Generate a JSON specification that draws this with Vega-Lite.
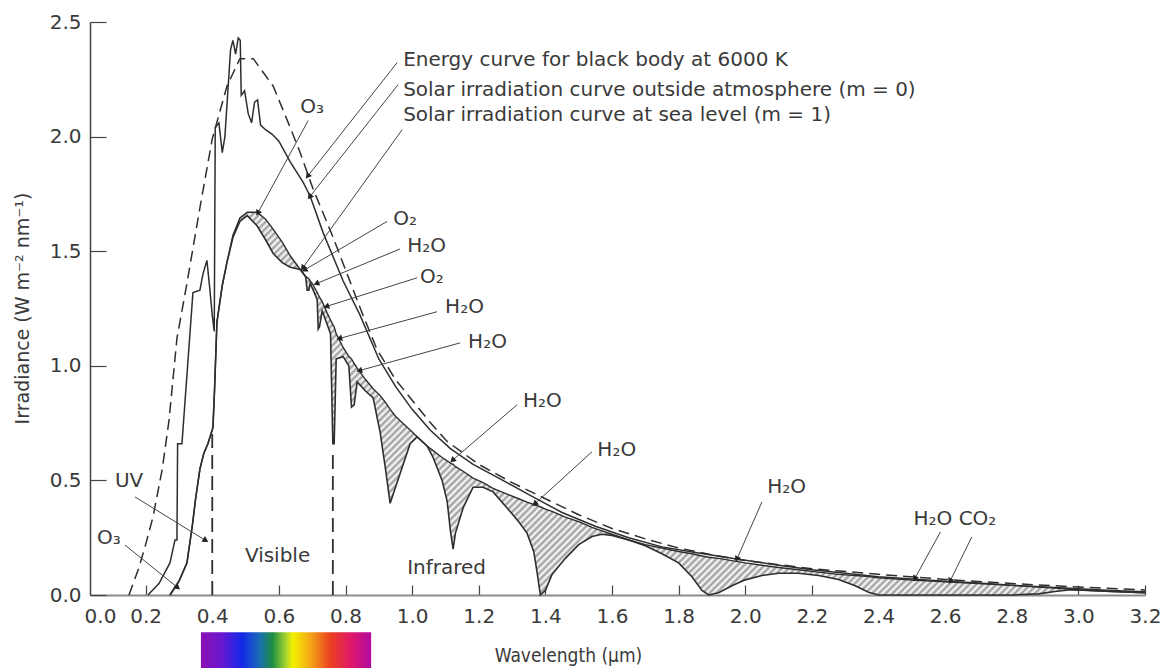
{
  "$schema": "https://vega.github.io/schema/vega-lite/v6.json",
  "width": 1055,
  "height": 573,
  "autosize": {"type": "none"},
  "padding": {"left": 90, "top": 22, "right": 20, "bottom": 74},
  "background": "white",
  "config": {"view": {"stroke": null}, "font": "DejaVu Sans"},
  "datasets": {
    "bb": [
      {"x": 0.15, "y": 0}, {"x": 0.18, "y": 0.12}, {"x": 0.2, "y": 0.22}, {"x": 0.222, "y": 0.34},
      {"x": 0.25, "y": 0.55}, {"x": 0.27, "y": 0.76}, {"x": 0.294, "y": 1.12}, {"x": 0.324, "y": 1.36},
      {"x": 0.363, "y": 1.69}, {"x": 0.4, "y": 1.99}, {"x": 0.444, "y": 2.22}, {"x": 0.483, "y": 2.34},
      {"x": 0.523, "y": 2.34}, {"x": 0.583, "y": 2.22}, {"x": 0.634, "y": 2.04}, {"x": 0.664, "y": 1.93},
      {"x": 0.703, "y": 1.77}, {"x": 0.763, "y": 1.56}, {"x": 0.805, "y": 1.4}, {"x": 0.85, "y": 1.23},
      {"x": 0.895, "y": 1.07}, {"x": 0.95, "y": 0.94}, {"x": 1.0, "y": 0.85}, {"x": 1.05, "y": 0.76},
      {"x": 1.105, "y": 0.67}, {"x": 1.2, "y": 0.57}, {"x": 1.3, "y": 0.49}, {"x": 1.4, "y": 0.42},
      {"x": 1.5, "y": 0.35}, {"x": 1.6, "y": 0.29}, {"x": 1.7, "y": 0.245}, {"x": 1.8, "y": 0.205},
      {"x": 1.9, "y": 0.175}, {"x": 2.0, "y": 0.15}, {"x": 2.2, "y": 0.115}, {"x": 2.4, "y": 0.09},
      {"x": 2.6, "y": 0.068}, {"x": 2.8, "y": 0.05}, {"x": 3.0, "y": 0.035}, {"x": 3.2, "y": 0.022}
    ],
    "out": [
      {"x": 0.207, "y": 0}, {"x": 0.24, "y": 0.05}, {"x": 0.273, "y": 0.14}, {"x": 0.288, "y": 0.24},
      {"x": 0.294, "y": 0.24}, {"x": 0.296, "y": 0.66}, {"x": 0.309, "y": 0.66}, {"x": 0.333, "y": 1.14},
      {"x": 0.342, "y": 1.32}, {"x": 0.363, "y": 1.33}, {"x": 0.372, "y": 1.4}, {"x": 0.384, "y": 1.46},
      {"x": 0.393, "y": 1.33}, {"x": 0.4, "y": 1.22}, {"x": 0.406, "y": 1.15}, {"x": 0.409, "y": 2.04},
      {"x": 0.42, "y": 2.06}, {"x": 0.43, "y": 1.93}, {"x": 0.438, "y": 2.0}, {"x": 0.455, "y": 2.38},
      {"x": 0.462, "y": 2.42}, {"x": 0.47, "y": 2.36}, {"x": 0.478, "y": 2.43}, {"x": 0.484, "y": 2.42},
      {"x": 0.487, "y": 2.18}, {"x": 0.497, "y": 2.2}, {"x": 0.508, "y": 2.1}, {"x": 0.518, "y": 2.06},
      {"x": 0.527, "y": 2.15}, {"x": 0.536, "y": 2.16}, {"x": 0.545, "y": 2.05}, {"x": 0.56, "y": 2.03},
      {"x": 0.58, "y": 2.01}, {"x": 0.6, "y": 1.98}, {"x": 0.634, "y": 1.89}, {"x": 0.673, "y": 1.8},
      {"x": 0.694, "y": 1.74}, {"x": 0.733, "y": 1.58}, {"x": 0.793, "y": 1.37}, {"x": 0.844, "y": 1.22},
      {"x": 0.9, "y": 1.03}, {"x": 0.95, "y": 0.91}, {"x": 1.0, "y": 0.81}, {"x": 1.054, "y": 0.72},
      {"x": 1.114, "y": 0.64}, {"x": 1.183, "y": 0.57}, {"x": 1.285, "y": 0.49}, {"x": 1.36, "y": 0.43},
      {"x": 1.45, "y": 0.36}, {"x": 1.55, "y": 0.3}, {"x": 1.65, "y": 0.25}, {"x": 1.75, "y": 0.21},
      {"x": 1.85, "y": 0.185}, {"x": 1.96, "y": 0.16}, {"x": 2.1, "y": 0.13}, {"x": 2.2, "y": 0.11},
      {"x": 2.3, "y": 0.095}, {"x": 2.4, "y": 0.08}, {"x": 2.5, "y": 0.07}, {"x": 2.6, "y": 0.06},
      {"x": 2.7, "y": 0.052}, {"x": 2.8, "y": 0.043}, {"x": 2.9, "y": 0.035}, {"x": 3.0, "y": 0.027},
      {"x": 3.1, "y": 0.02}, {"x": 3.2, "y": 0.014}
    ],
    "sea": [
      {"x": 0.273, "y": 0, "env": 0}, {"x": 0.3, "y": 0.06, "env": 0.06}, {"x": 0.324, "y": 0.14, "env": 0.14},
      {"x": 0.34, "y": 0.3, "env": 0.3}, {"x": 0.35, "y": 0.42, "env": 0.42}, {"x": 0.363, "y": 0.55, "env": 0.55},
      {"x": 0.375, "y": 0.62, "env": 0.62}, {"x": 0.387, "y": 0.66, "env": 0.66}, {"x": 0.402, "y": 0.73, "env": 0.73},
      {"x": 0.407, "y": 0.9, "env": 0.9}, {"x": 0.414, "y": 1.19, "env": 1.19}, {"x": 0.43, "y": 1.35, "env": 1.35},
      {"x": 0.444, "y": 1.45, "env": 1.45}, {"x": 0.462, "y": 1.56, "env": 1.57}, {"x": 0.483, "y": 1.63, "env": 1.645},
      {"x": 0.505, "y": 1.655, "env": 1.67}, {"x": 0.535, "y": 1.61, "env": 1.67}, {"x": 0.56, "y": 1.55, "env": 1.64},
      {"x": 0.583, "y": 1.49, "env": 1.595}, {"x": 0.61, "y": 1.45, "env": 1.54}, {"x": 0.634, "y": 1.43, "env": 1.48},
      {"x": 0.664, "y": 1.42, "env": 1.42}, {"x": 0.68, "y": 1.39, "env": 1.39}, {"x": 0.685, "y": 1.33, "env": 1.385},
      {"x": 0.69, "y": 1.33, "env": 1.38}, {"x": 0.694, "y": 1.36, "env": 1.37}, {"x": 0.7, "y": 1.34, "env": 1.36},
      {"x": 0.715, "y": 1.29, "env": 1.32}, {"x": 0.718, "y": 1.16, "env": 1.31}, {"x": 0.722, "y": 1.17, "env": 1.3},
      {"x": 0.73, "y": 1.24, "env": 1.28}, {"x": 0.745, "y": 1.18, "env": 1.23}, {"x": 0.755, "y": 1.14, "env": 1.2},
      {"x": 0.762, "y": 0.66, "env": 1.18}, {"x": 0.766, "y": 0.66, "env": 1.17}, {"x": 0.772, "y": 1.03, "env": 1.14},
      {"x": 0.793, "y": 1.04, "env": 1.08}, {"x": 0.81, "y": 1.0, "env": 1.04}, {"x": 0.818, "y": 0.82, "env": 1.03},
      {"x": 0.826, "y": 0.83, "env": 1.01}, {"x": 0.835, "y": 0.93, "env": 0.99}, {"x": 0.86, "y": 0.89, "env": 0.94},
      {"x": 0.883, "y": 0.86, "env": 0.9}, {"x": 0.904, "y": 0.71, "env": 0.87}, {"x": 0.92, "y": 0.55, "env": 0.84},
      {"x": 0.934, "y": 0.4, "env": 0.81}, {"x": 0.95, "y": 0.47, "env": 0.78}, {"x": 0.964, "y": 0.53, "env": 0.76},
      {"x": 0.994, "y": 0.66, "env": 0.72}, {"x": 1.015, "y": 0.69, "env": 0.69}, {"x": 1.045, "y": 0.65, "env": 0.65},
      {"x": 1.063, "y": 0.6, "env": 0.63}, {"x": 1.09, "y": 0.5, "env": 0.6}, {"x": 1.105, "y": 0.41, "env": 0.585},
      {"x": 1.115, "y": 0.28, "env": 0.575}, {"x": 1.123, "y": 0.2, "env": 0.57}, {"x": 1.13, "y": 0.27, "env": 0.56},
      {"x": 1.153, "y": 0.38, "env": 0.54}, {"x": 1.183, "y": 0.47, "env": 0.51}, {"x": 1.213, "y": 0.47, "env": 0.49},
      {"x": 1.243, "y": 0.45, "env": 0.465}, {"x": 1.285, "y": 0.38, "env": 0.44}, {"x": 1.32, "y": 0.32, "env": 0.42},
      {"x": 1.345, "y": 0.27, "env": 0.405}, {"x": 1.365, "y": 0.19, "env": 0.395}, {"x": 1.375, "y": 0.1, "env": 0.39},
      {"x": 1.385, "y": 0.0, "env": 0.385}, {"x": 1.4, "y": 0.02, "env": 0.375}, {"x": 1.42, "y": 0.09, "env": 0.365},
      {"x": 1.46, "y": 0.16, "env": 0.34}, {"x": 1.5, "y": 0.22, "env": 0.32}, {"x": 1.54, "y": 0.255, "env": 0.295},
      {"x": 1.57, "y": 0.265, "env": 0.28}, {"x": 1.6, "y": 0.26, "env": 0.265}, {"x": 1.65, "y": 0.24, "env": 0.24},
      {"x": 1.7, "y": 0.215, "env": 0.22}, {"x": 1.75, "y": 0.18, "env": 0.205}, {"x": 1.8, "y": 0.14, "env": 0.19},
      {"x": 1.84, "y": 0.08, "env": 0.18}, {"x": 1.87, "y": 0.02, "env": 0.17}, {"x": 1.89, "y": 0.0, "env": 0.165},
      {"x": 1.92, "y": 0.01, "env": 0.16}, {"x": 1.96, "y": 0.04, "env": 0.15}, {"x": 2.0, "y": 0.066, "env": 0.14},
      {"x": 2.05, "y": 0.085, "env": 0.13}, {"x": 2.1, "y": 0.095, "env": 0.12}, {"x": 2.16, "y": 0.095, "env": 0.11},
      {"x": 2.22, "y": 0.085, "env": 0.1}, {"x": 2.28, "y": 0.068, "env": 0.09}, {"x": 2.33, "y": 0.04, "env": 0.085},
      {"x": 2.37, "y": 0.012, "env": 0.08}, {"x": 2.4, "y": 0.0, "env": 0.075}, {"x": 2.5, "y": 0.0, "env": 0.065},
      {"x": 2.6, "y": 0.0, "env": 0.058}, {"x": 2.7, "y": 0.0, "env": 0.05}, {"x": 2.8, "y": 0.0, "env": 0.042},
      {"x": 2.88, "y": 0.005, "env": 0.035}, {"x": 2.93, "y": 0.015, "env": 0.03}, {"x": 2.97, "y": 0.022, "env": 0.026},
      {"x": 3.0, "y": 0.022, "env": 0.022}, {"x": 3.1, "y": 0.015, "env": 0.015}, {"x": 3.2, "y": 0.01, "env": 0.01}
    ],
    "bounds": [
      {"x": 0.4, "y": 0, "y2": 0.72},
      {"x": 0.762, "y": 0, "y2": 0.64}
    ],
    "arrows": [
      {"x": 0.955, "y": 2.323, "x2": 0.688, "y2": 1.83, "dir": 218},
      {"x": 0.958, "y": 2.227, "x2": 0.694, "y2": 1.74, "dir": 218},
      {"x": 0.97, "y": 2.03, "x2": 0.673, "y2": 1.43, "dir": 216},
      {"x": 0.688, "y": 2.07, "x2": 0.538, "y2": 1.67, "dir": 209},
      {"x": 0.925, "y": 1.63, "x2": 0.679, "y2": 1.42, "dir": 240},
      {"x": 0.964, "y": 1.51, "x2": 0.715, "y2": 1.36, "dir": 247},
      {"x": 1.015, "y": 1.384, "x2": 0.745, "y2": 1.26, "dir": 252},
      {"x": 1.075, "y": 1.236, "x2": 0.784, "y2": 1.12, "dir": 255},
      {"x": 1.144, "y": 1.1, "x2": 0.844, "y2": 0.98, "dir": 255},
      {"x": 1.315, "y": 0.83, "x2": 1.123, "y2": 0.59, "dir": 229},
      {"x": 1.54, "y": 0.625, "x2": 1.37, "y2": 0.4, "dir": 228},
      {"x": 2.05, "y": 0.406, "x2": 1.976, "y2": 0.16, "dir": 204},
      {"x": 2.586, "y": 0.275, "x2": 2.51, "y2": 0.075, "dir": 209},
      {"x": 2.68, "y": 0.253, "x2": 2.616, "y2": 0.064, "dir": 206},
      {"x": 0.168, "y": 0.428, "x2": 0.378, "y2": 0.24, "dir": 122},
      {"x": 0.138, "y": 0.218, "x2": 0.294, "y2": 0.035, "dir": 129}
    ],
    "notes": [
      {"x": 0.973, "y": 2.336, "text": "Energy curve for black body at 6000 K"},
      {"x": 0.973, "y": 2.205, "text": "Solar irradiation curve outside atmosphere (m = 0)"},
      {"x": 0.973, "y": 2.096, "text": "Solar irradiation curve at sea level (m = 1)"},
      {"x": 0.664, "y": 2.127, "text": "O₃"},
      {"x": 0.943, "y": 1.642, "text": "O₂"},
      {"x": 0.985, "y": 1.524, "text": "H₂O"},
      {"x": 1.024, "y": 1.389, "text": "O₂"},
      {"x": 1.099, "y": 1.258, "text": "H₂O"},
      {"x": 1.168, "y": 1.105, "text": "H₂O"},
      {"x": 1.333, "y": 0.847, "text": "H₂O"},
      {"x": 1.556, "y": 0.633, "text": "H₂O"},
      {"x": 2.066, "y": 0.472, "text": "H₂O"},
      {"x": 2.505, "y": 0.332, "text": "H₂O CO₂"},
      {"x": 0.108, "y": 0.498, "text": "UV"},
      {"x": 0.054, "y": 0.249, "text": "O₃"},
      {"x": 0.498, "y": 0.17, "text": "Visible"},
      {"x": 0.985, "y": 0.118, "text": "Infrared"}
    ],
    "spectrum": [
      {"x": 0.366, "x2": 0.877, "y": -0.162, "y2": -0.319}
    ]
  },
  "encoding": {
    "x": {
      "field": "x", "type": "quantitative",
      "scale": {"domain": [0.033, 3.2], "nice": false, "zero": false},
      "axis": {
        "title": "Wavelength (μm)",
        "values": [0.063, 0.2, 0.4, 0.6, 0.8, 1.0, 1.2, 1.4, 1.6, 1.8, 2.0, 2.2, 2.4, 2.6, 2.8, 3.0, 3.2],
        "labelExpr": "datum.value < 0.1 ? '0.0' : format(datum.value, '.1f')",
        "grid": false,
        "domainColor": "#8a8a8a", "domainWidth": 2,
        "tickColor": "#444", "tickWidth": 1.2, "tickSize": -10,
        "tickOpacity": {"condition": {"test": "datum.value < 0.1", "value": 0}, "value": 1},
        "labelFont": "DejaVu Sans", "labelFontSize": 20, "labelColor": "#3a3a3a", "labelPadding": 21,
        "labelFlush": false, "labelOverlap": false,
        "titleFont": "DejaVu Sans Condensed, Liberation Sans Narrow, DejaVu Sans", "titleFontSize": 19, "titleFontWeight": "normal",
        "titleColor": "#3a3a3a", "titleX": 478, "titleY": 66, "titleBaseline": "alphabetic", "titleAnchor": "middle"
      }
    },
    "y": {
      "field": "y", "type": "quantitative",
      "scale": {"domain": [0, 2.5], "nice": false},
      "axis": {
        "title": "Irradiance (W m⁻² nm⁻¹)",
        "values": [0, 0.5, 1.0, 1.5, 2.0, 2.5],
        "format": ".1f",
        "grid": false,
        "domainColor": "#444", "domainWidth": 1.5,
        "tickColor": "#444", "tickWidth": 1.2, "tickSize": -16,
        "labelFont": "DejaVu Sans", "labelFontSize": 20, "labelColor": "#3a3a3a", "labelPadding": 25,
        "labelFlush": false,
        "titleFont": "DejaVu Sans", "titleFontSize": 19, "titleFontWeight": "normal", "titleColor": "#3a3a3a",
        "titleAngle": -90, "titleX": -68, "titleY": 286, "titleBaseline": "middle", "titleAnchor": "middle"
      }
    }
  },
  "layer": [
    {
      "data": {"name": "spectrum"},
      "mark": {
        "type": "rect",
        "fill": {
          "gradient": "linear", "x1": 0, "y1": 0, "x2": 1, "y2": 0,
          "stops": [
            {"offset": 0, "color": "#8c10b4"},
            {"offset": 0.12, "color": "#6a18d0"},
            {"offset": 0.24, "color": "#1428e8"},
            {"offset": 0.34, "color": "#1a6ab8"},
            {"offset": 0.42, "color": "#1c8e44"},
            {"offset": 0.5, "color": "#a8d430"},
            {"offset": 0.54, "color": "#f4f000"},
            {"offset": 0.64, "color": "#f4a818"},
            {"offset": 0.76, "color": "#ec4020"},
            {"offset": 0.88, "color": "#e0186a"},
            {"offset": 1, "color": "#b00ca0"}
          ]
        },
        "strokeWidth": 0
      },
      "encoding": {"x2": {"field": "x2"}, "y2": {"field": "y2"}}
    },
    {
      "data": {"name": "sea"},
      "mark": {
        "type": "area",
        "opacity": 1,
        "fill": {
          "gradient": "linear", "x1": 0, "y1": 0, "x2": 1.207, "y2": 0.473,
          "stops": [
{"offset":0,"color":"#fff"},{"offset":0.0025,"color":"#999"},{"offset":0.005,"color":"#fff"},{"offset":0.0075,"color":"#999"},
{"offset":0.01,"color":"#fff"},{"offset":0.0125,"color":"#999"},{"offset":0.015,"color":"#fff"},{"offset":0.0175,"color":"#999"},
{"offset":0.02,"color":"#fff"},{"offset":0.0225,"color":"#999"},{"offset":0.025,"color":"#fff"},{"offset":0.0275,"color":"#999"},
{"offset":0.03,"color":"#fff"},{"offset":0.0325,"color":"#999"},{"offset":0.035,"color":"#fff"},{"offset":0.0375,"color":"#999"},
{"offset":0.04,"color":"#fff"},{"offset":0.0425,"color":"#999"},{"offset":0.045,"color":"#fff"},{"offset":0.0475,"color":"#999"},
{"offset":0.05,"color":"#fff"},{"offset":0.0525,"color":"#999"},{"offset":0.055,"color":"#fff"},{"offset":0.0575,"color":"#999"},
{"offset":0.06,"color":"#fff"},{"offset":0.0625,"color":"#999"},{"offset":0.065,"color":"#fff"},{"offset":0.0675,"color":"#999"},
{"offset":0.07,"color":"#fff"},{"offset":0.0725,"color":"#999"},{"offset":0.075,"color":"#fff"},{"offset":0.0775,"color":"#999"},
{"offset":0.08,"color":"#fff"},{"offset":0.0825,"color":"#999"},{"offset":0.085,"color":"#fff"},{"offset":0.0875,"color":"#999"},
{"offset":0.09,"color":"#fff"},{"offset":0.0925,"color":"#999"},{"offset":0.095,"color":"#fff"},{"offset":0.0975,"color":"#999"},
{"offset":0.1,"color":"#fff"},{"offset":0.1025,"color":"#999"},{"offset":0.105,"color":"#fff"},{"offset":0.1075,"color":"#999"},
{"offset":0.11,"color":"#fff"},{"offset":0.1125,"color":"#999"},{"offset":0.115,"color":"#fff"},{"offset":0.1175,"color":"#999"},
{"offset":0.12,"color":"#fff"},{"offset":0.1225,"color":"#999"},{"offset":0.125,"color":"#fff"},{"offset":0.1275,"color":"#999"},
{"offset":0.13,"color":"#fff"},{"offset":0.1325,"color":"#999"},{"offset":0.135,"color":"#fff"},{"offset":0.1375,"color":"#999"},
{"offset":0.14,"color":"#fff"},{"offset":0.1425,"color":"#999"},{"offset":0.145,"color":"#fff"},{"offset":0.1475,"color":"#999"},
{"offset":0.15,"color":"#fff"},{"offset":0.1525,"color":"#999"},{"offset":0.155,"color":"#fff"},{"offset":0.1575,"color":"#999"},
{"offset":0.16,"color":"#fff"},{"offset":0.1625,"color":"#999"},{"offset":0.165,"color":"#fff"},{"offset":0.1675,"color":"#999"},
{"offset":0.17,"color":"#fff"},{"offset":0.1725,"color":"#999"},{"offset":0.175,"color":"#fff"},{"offset":0.1775,"color":"#999"},
{"offset":0.18,"color":"#fff"},{"offset":0.1825,"color":"#999"},{"offset":0.185,"color":"#fff"},{"offset":0.1875,"color":"#999"},
{"offset":0.19,"color":"#fff"},{"offset":0.1925,"color":"#999"},{"offset":0.195,"color":"#fff"},{"offset":0.1975,"color":"#999"},
{"offset":0.2,"color":"#fff"},{"offset":0.2025,"color":"#999"},{"offset":0.205,"color":"#fff"},{"offset":0.2075,"color":"#999"},
{"offset":0.21,"color":"#fff"},{"offset":0.2125,"color":"#999"},{"offset":0.215,"color":"#fff"},{"offset":0.2175,"color":"#999"},
{"offset":0.22,"color":"#fff"},{"offset":0.2225,"color":"#999"},{"offset":0.225,"color":"#fff"},{"offset":0.2275,"color":"#999"},
{"offset":0.23,"color":"#fff"},{"offset":0.2325,"color":"#999"},{"offset":0.235,"color":"#fff"},{"offset":0.2375,"color":"#999"},
{"offset":0.24,"color":"#fff"},{"offset":0.2425,"color":"#999"},{"offset":0.245,"color":"#fff"},{"offset":0.2475,"color":"#999"},
{"offset":0.25,"color":"#fff"},{"offset":0.2525,"color":"#999"},{"offset":0.255,"color":"#fff"},{"offset":0.2575,"color":"#999"},
{"offset":0.26,"color":"#fff"},{"offset":0.2625,"color":"#999"},{"offset":0.265,"color":"#fff"},{"offset":0.2675,"color":"#999"},
{"offset":0.27,"color":"#fff"},{"offset":0.2725,"color":"#999"},{"offset":0.275,"color":"#fff"},{"offset":0.2775,"color":"#999"},
{"offset":0.28,"color":"#fff"},{"offset":0.2825,"color":"#999"},{"offset":0.285,"color":"#fff"},{"offset":0.2875,"color":"#999"},
{"offset":0.29,"color":"#fff"},{"offset":0.2925,"color":"#999"},{"offset":0.295,"color":"#fff"},{"offset":0.2975,"color":"#999"},
{"offset":0.3,"color":"#fff"},{"offset":0.3025,"color":"#999"},{"offset":0.305,"color":"#fff"},{"offset":0.3075,"color":"#999"},
{"offset":0.31,"color":"#fff"},{"offset":0.3125,"color":"#999"},{"offset":0.315,"color":"#fff"},{"offset":0.3175,"color":"#999"},
{"offset":0.32,"color":"#fff"},{"offset":0.3225,"color":"#999"},{"offset":0.325,"color":"#fff"},{"offset":0.3275,"color":"#999"},
{"offset":0.33,"color":"#fff"},{"offset":0.3325,"color":"#999"},{"offset":0.335,"color":"#fff"},{"offset":0.3375,"color":"#999"},
{"offset":0.34,"color":"#fff"},{"offset":0.3425,"color":"#999"},{"offset":0.345,"color":"#fff"},{"offset":0.3475,"color":"#999"},
{"offset":0.35,"color":"#fff"},{"offset":0.3525,"color":"#999"},{"offset":0.355,"color":"#fff"},{"offset":0.3575,"color":"#999"},
{"offset":0.36,"color":"#fff"},{"offset":0.3625,"color":"#999"},{"offset":0.365,"color":"#fff"},{"offset":0.3675,"color":"#999"},
{"offset":0.37,"color":"#fff"},{"offset":0.3725,"color":"#999"},{"offset":0.375,"color":"#fff"},{"offset":0.3775,"color":"#999"},
{"offset":0.38,"color":"#fff"},{"offset":0.3825,"color":"#999"},{"offset":0.385,"color":"#fff"},{"offset":0.3875,"color":"#999"},
{"offset":0.39,"color":"#fff"},{"offset":0.3925,"color":"#999"},{"offset":0.395,"color":"#fff"},{"offset":0.3975,"color":"#999"},
{"offset":0.4,"color":"#fff"},{"offset":0.4025,"color":"#999"},{"offset":0.405,"color":"#fff"},{"offset":0.4075,"color":"#999"},
{"offset":0.41,"color":"#fff"},{"offset":0.4125,"color":"#999"},{"offset":0.415,"color":"#fff"},{"offset":0.4175,"color":"#999"},
{"offset":0.42,"color":"#fff"},{"offset":0.4225,"color":"#999"},{"offset":0.425,"color":"#fff"},{"offset":0.4275,"color":"#999"},
{"offset":0.43,"color":"#fff"},{"offset":0.4325,"color":"#999"},{"offset":0.435,"color":"#fff"},{"offset":0.4375,"color":"#999"},
{"offset":0.44,"color":"#fff"},{"offset":0.4425,"color":"#999"},{"offset":0.445,"color":"#fff"},{"offset":0.4475,"color":"#999"},
{"offset":0.45,"color":"#fff"},{"offset":0.4525,"color":"#999"},{"offset":0.455,"color":"#fff"},{"offset":0.4575,"color":"#999"},
{"offset":0.46,"color":"#fff"},{"offset":0.4625,"color":"#999"},{"offset":0.465,"color":"#fff"},{"offset":0.4675,"color":"#999"},
{"offset":0.47,"color":"#fff"},{"offset":0.4725,"color":"#999"},{"offset":0.475,"color":"#fff"},{"offset":0.4775,"color":"#999"},
{"offset":0.48,"color":"#fff"},{"offset":0.4825,"color":"#999"},{"offset":0.485,"color":"#fff"},{"offset":0.4875,"color":"#999"},
{"offset":0.49,"color":"#fff"},{"offset":0.4925,"color":"#999"},{"offset":0.495,"color":"#fff"},{"offset":0.4975,"color":"#999"},
{"offset":0.5,"color":"#fff"},{"offset":0.5025,"color":"#999"},{"offset":0.505,"color":"#fff"},{"offset":0.5075,"color":"#999"},
{"offset":0.51,"color":"#fff"},{"offset":0.5125,"color":"#999"},{"offset":0.515,"color":"#fff"},{"offset":0.5175,"color":"#999"},
{"offset":0.52,"color":"#fff"},{"offset":0.5225,"color":"#999"},{"offset":0.525,"color":"#fff"},{"offset":0.5275,"color":"#999"},
{"offset":0.53,"color":"#fff"},{"offset":0.5325,"color":"#999"},{"offset":0.535,"color":"#fff"},{"offset":0.5375,"color":"#999"},
{"offset":0.54,"color":"#fff"},{"offset":0.5425,"color":"#999"},{"offset":0.545,"color":"#fff"},{"offset":0.5475,"color":"#999"},
{"offset":0.55,"color":"#fff"},{"offset":0.5525,"color":"#999"},{"offset":0.555,"color":"#fff"},{"offset":0.5575,"color":"#999"},
{"offset":0.56,"color":"#fff"},{"offset":0.5625,"color":"#999"},{"offset":0.565,"color":"#fff"},{"offset":0.5675,"color":"#999"},
{"offset":0.57,"color":"#fff"},{"offset":0.5725,"color":"#999"},{"offset":0.575,"color":"#fff"},{"offset":0.5775,"color":"#999"},
{"offset":0.58,"color":"#fff"},{"offset":0.5825,"color":"#999"},{"offset":0.585,"color":"#fff"},{"offset":0.5875,"color":"#999"},
{"offset":0.59,"color":"#fff"},{"offset":0.5925,"color":"#999"},{"offset":0.595,"color":"#fff"},{"offset":0.5975,"color":"#999"},
{"offset":0.6,"color":"#fff"},{"offset":0.6025,"color":"#999"},{"offset":0.605,"color":"#fff"},{"offset":0.6075,"color":"#999"},
{"offset":0.61,"color":"#fff"},{"offset":0.6125,"color":"#999"},{"offset":0.615,"color":"#fff"},{"offset":0.6175,"color":"#999"},
{"offset":0.62,"color":"#fff"},{"offset":0.6225,"color":"#999"},{"offset":0.625,"color":"#fff"},{"offset":0.6275,"color":"#999"},
{"offset":0.63,"color":"#fff"},{"offset":0.6325,"color":"#999"},{"offset":0.635,"color":"#fff"},{"offset":0.6375,"color":"#999"},
{"offset":0.64,"color":"#fff"},{"offset":0.6425,"color":"#999"},{"offset":0.645,"color":"#fff"},{"offset":0.6475,"color":"#999"},
{"offset":0.65,"color":"#fff"},{"offset":0.6525,"color":"#999"},{"offset":0.655,"color":"#fff"},{"offset":0.6575,"color":"#999"},
{"offset":0.66,"color":"#fff"},{"offset":0.6625,"color":"#999"},{"offset":0.665,"color":"#fff"},{"offset":0.6675,"color":"#999"},
{"offset":0.67,"color":"#fff"},{"offset":0.6725,"color":"#999"},{"offset":0.675,"color":"#fff"},{"offset":0.6775,"color":"#999"},
{"offset":0.68,"color":"#fff"},{"offset":0.6825,"color":"#999"},{"offset":0.685,"color":"#fff"},{"offset":0.6875,"color":"#999"},
{"offset":0.69,"color":"#fff"},{"offset":0.6925,"color":"#999"},{"offset":0.695,"color":"#fff"},{"offset":0.6975,"color":"#999"},
{"offset":0.7,"color":"#fff"},{"offset":0.7025,"color":"#999"},{"offset":0.705,"color":"#fff"},{"offset":0.7075,"color":"#999"},
{"offset":0.71,"color":"#fff"},{"offset":0.7125,"color":"#999"},{"offset":0.715,"color":"#fff"},{"offset":0.7175,"color":"#999"},
{"offset":0.72,"color":"#fff"},{"offset":0.7225,"color":"#999"},{"offset":0.725,"color":"#fff"},{"offset":0.7275,"color":"#999"},
{"offset":0.73,"color":"#fff"},{"offset":0.7325,"color":"#999"},{"offset":0.735,"color":"#fff"},{"offset":0.7375,"color":"#999"},
{"offset":0.74,"color":"#fff"},{"offset":0.7425,"color":"#999"},{"offset":0.745,"color":"#fff"},{"offset":0.7475,"color":"#999"},
{"offset":0.75,"color":"#fff"},{"offset":0.7525,"color":"#999"},{"offset":0.755,"color":"#fff"},{"offset":0.7575,"color":"#999"},
{"offset":0.76,"color":"#fff"},{"offset":0.7625,"color":"#999"},{"offset":0.765,"color":"#fff"},{"offset":0.7675,"color":"#999"},
{"offset":0.77,"color":"#fff"},{"offset":0.7725,"color":"#999"},{"offset":0.775,"color":"#fff"},{"offset":0.7775,"color":"#999"},
{"offset":0.78,"color":"#fff"},{"offset":0.7825,"color":"#999"},{"offset":0.785,"color":"#fff"},{"offset":0.7875,"color":"#999"},
{"offset":0.79,"color":"#fff"},{"offset":0.7925,"color":"#999"},{"offset":0.795,"color":"#fff"},{"offset":0.7975,"color":"#999"},
{"offset":0.8,"color":"#fff"},{"offset":0.8025,"color":"#999"},{"offset":0.805,"color":"#fff"},{"offset":0.8075,"color":"#999"},
{"offset":0.81,"color":"#fff"},{"offset":0.8125,"color":"#999"},{"offset":0.815,"color":"#fff"},{"offset":0.8175,"color":"#999"},
{"offset":0.82,"color":"#fff"},{"offset":0.8225,"color":"#999"},{"offset":0.825,"color":"#fff"},{"offset":0.8275,"color":"#999"},
{"offset":0.83,"color":"#fff"},{"offset":0.8325,"color":"#999"},{"offset":0.835,"color":"#fff"},{"offset":0.8375,"color":"#999"},
{"offset":0.84,"color":"#fff"},{"offset":0.8425,"color":"#999"},{"offset":0.845,"color":"#fff"},{"offset":0.8475,"color":"#999"},
{"offset":0.85,"color":"#fff"},{"offset":0.8525,"color":"#999"},{"offset":0.855,"color":"#fff"},{"offset":0.8575,"color":"#999"},
{"offset":0.86,"color":"#fff"},{"offset":0.8625,"color":"#999"},{"offset":0.865,"color":"#fff"},{"offset":0.8675,"color":"#999"},
{"offset":0.87,"color":"#fff"},{"offset":0.8725,"color":"#999"},{"offset":0.875,"color":"#fff"},{"offset":0.8775,"color":"#999"},
{"offset":0.88,"color":"#fff"},{"offset":0.8825,"color":"#999"},{"offset":0.885,"color":"#fff"},{"offset":0.8875,"color":"#999"},
{"offset":0.89,"color":"#fff"},{"offset":0.8925,"color":"#999"},{"offset":0.895,"color":"#fff"},{"offset":0.8975,"color":"#999"},
{"offset":0.9,"color":"#fff"},{"offset":0.9025,"color":"#999"},{"offset":0.905,"color":"#fff"},{"offset":0.9075,"color":"#999"},
{"offset":0.91,"color":"#fff"},{"offset":0.9125,"color":"#999"},{"offset":0.915,"color":"#fff"},{"offset":0.9175,"color":"#999"},
{"offset":0.92,"color":"#fff"},{"offset":0.9225,"color":"#999"},{"offset":0.925,"color":"#fff"},{"offset":0.9275,"color":"#999"},
{"offset":0.93,"color":"#fff"},{"offset":0.9325,"color":"#999"},{"offset":0.935,"color":"#fff"},{"offset":0.9375,"color":"#999"},
{"offset":0.94,"color":"#fff"},{"offset":0.9425,"color":"#999"},{"offset":0.945,"color":"#fff"},{"offset":0.9475,"color":"#999"},
{"offset":0.95,"color":"#fff"},{"offset":0.9525,"color":"#999"},{"offset":0.955,"color":"#fff"},{"offset":0.9575,"color":"#999"},
{"offset":0.96,"color":"#fff"},{"offset":0.9625,"color":"#999"},{"offset":0.965,"color":"#fff"},{"offset":0.9675,"color":"#999"},
{"offset":0.97,"color":"#fff"},{"offset":0.9725,"color":"#999"},{"offset":0.975,"color":"#fff"},{"offset":0.9775,"color":"#999"},
{"offset":0.98,"color":"#fff"},{"offset":0.9825,"color":"#999"},{"offset":0.985,"color":"#fff"},{"offset":0.9875,"color":"#999"},
{"offset":0.99,"color":"#fff"},{"offset":0.9925,"color":"#999"},{"offset":0.995,"color":"#fff"},{"offset":0.9975,"color":"#999"},
{"offset":1,"color":"#fff"}
          ]
        }
      },
      "encoding": {"y2": {"field": "env"}}
    },
    {
      "data": {"name": "sea"},
      "mark": {"type": "line", "color": "#2e2e2e", "strokeWidth": 1.6}
    },
    {
      "data": {"name": "sea"},
      "mark": {"type": "line", "color": "#2e2e2e", "strokeWidth": 1.4},
      "encoding": {"y": {"field": "env", "type": "quantitative", "scale": {"domain": [0, 2.5], "nice": false}}}
    },
    {
      "data": {"name": "out"},
      "mark": {"type": "line", "color": "#2e2e2e", "strokeWidth": 1.5}
    },
    {
      "data": {"name": "bb"},
      "mark": {"type": "line", "color": "#2e2e2e", "strokeWidth": 1.5, "strokeDash": [11, 6]}
    },
    {
      "data": {"name": "bounds"},
      "mark": {"type": "rule", "color": "#2e2e2e", "strokeWidth": 1.8, "strokeDash": [14, 7]},
      "encoding": {"y2": {"field": "y2"}}
    },
    {
      "data": {"name": "arrows"},
      "mark": {"type": "rule", "color": "#444", "strokeWidth": 1},
      "encoding": {"x2": {"field": "x2"}, "y2": {"field": "y2"}}
    },
    {
      "data": {"name": "arrows"},
      "mark": {"type": "point", "shape": "triangle", "filled": true, "color": "#222", "size": 45, "opacity": 1},
      "encoding": {
        "x": {"field": "x2", "type": "quantitative", "scale": {"domain": [0.033, 3.2], "nice": false, "zero": false}},
        "y": {"field": "y2", "type": "quantitative", "scale": {"domain": [0, 2.5], "nice": false}},
        "angle": {"field": "dir", "type": "quantitative", "scale": null}
      }
    },
    {
      "data": {"name": "notes"},
      "mark": {"type": "text", "align": "left", "baseline": "middle", "font": "DejaVu Sans", "fontSize": 20, "color": "#3a3a3a"},
      "encoding": {"text": {"field": "text"}}
    }
  ]
}
